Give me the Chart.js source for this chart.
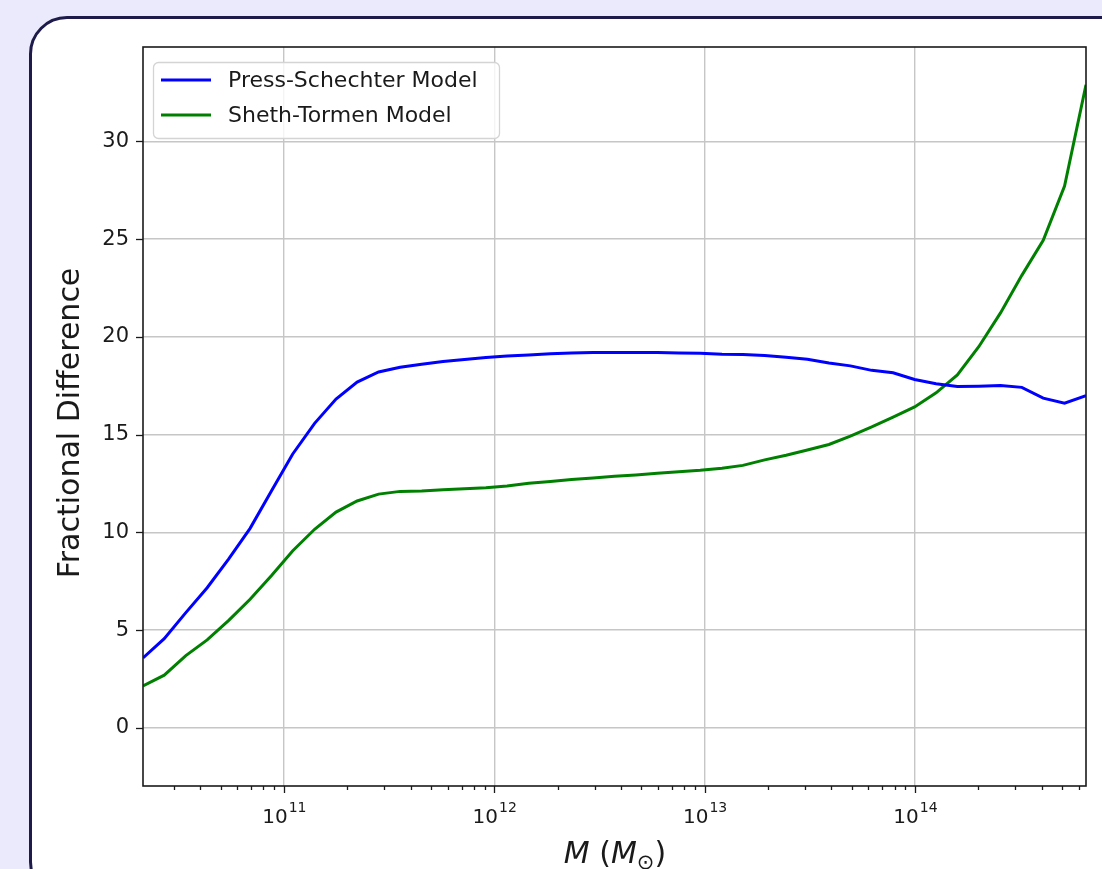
<!DOCTYPE html>
<html>
<head>
<meta charset="utf-8">
<script src="https://cdn.jsdelivr.net/npm/chart.js@4.4.1/dist/chart.umd.min.js"></script>
<style>
  html, body { margin: 0; padding: 0; width: 1102px; height: 869px; overflow: hidden; background: #eaeafc; }
  #card { position: absolute; left: 29px; top: 16px; width: 1200px; height: 884px; background: #fff;
          border: 3px solid #1e1b4b; border-radius: 38px; box-sizing: border-box; }
  #wrap { position: absolute; left: 0; top: 0; width: 1102px; height: 869px; }
</style>
</head>
<body>
<div id="card"></div>
<div id="wrap"><canvas id="chart" width="1102" height="869"></canvas></div>
<script>
// halo mass grid (M_sun)
const masses = [
  2.14e10, 2.70e10, 3.42e10, 4.32e10, 5.47e10, 6.91e10, 8.74e10, 1.10e11, 1.40e11, 1.77e11,
  2.23e11, 2.82e11, 3.57e11, 4.52e11, 5.71e11, 7.22e11, 9.13e11, 1.15e12, 1.46e12, 1.85e12,
  2.33e12, 2.95e12, 3.73e12, 4.71e12, 5.96e12, 7.54e12, 9.53e12, 1.21e13, 1.52e13, 1.93e13,
  2.44e13, 3.08e13, 3.90e13, 4.93e13, 6.23e13, 7.87e13, 9.96e13, 1.26e14, 1.59e14, 2.01e14,
  2.55e14, 3.22e14, 4.07e14, 5.14e14, 6.50e14
];

const pressSchechter = [
  3.58, 4.57, 5.90, 7.17, 8.65, 10.21, 12.13, 14.00, 15.58, 16.82,
  17.69, 18.21, 18.45, 18.60, 18.74, 18.85, 18.95, 19.03, 19.08, 19.14,
  19.18, 19.20, 19.21, 19.21, 19.20, 19.18, 19.17, 19.11, 19.10, 19.05,
  18.96, 18.86, 18.67, 18.52, 18.29, 18.17, 17.82, 17.61, 17.46, 17.48,
  17.51, 17.42, 16.87, 16.61, 17.00
];

const shethTormen = [
  2.15, 2.70, 3.70, 4.50, 5.50, 6.58, 7.80, 9.05, 10.16, 11.04,
  11.61, 11.96, 12.10, 12.12, 12.18, 12.23, 12.28, 12.38, 12.51, 12.61,
  12.71, 12.79, 12.87, 12.94, 13.03, 13.11, 13.18, 13.28, 13.43, 13.71,
  13.95, 14.22, 14.50, 14.93, 15.40, 15.90, 16.42, 17.14, 18.06, 19.50,
  21.23, 23.15, 24.94, 27.72, 32.90
];

const seriesLabels = ['Press-Schechter Model', 'Sheth-Tormen Model'];
const seriesColors = ['#0000ff', '#008000'];

const xMajorTicks = [1e11, 1e12, 1e13, 1e14];
const xTickExponents = ['11', '12', '13', '14'];   // labels read as 10^11 ... 10^14
const yTicks = [0, 5, 10, 15, 20, 25, 30];

const X_MIN = 2.14e10, X_MAX = 6.5e14;
const Y_MIN = -2.97, Y_MAX = 34.83;

// log minor ticks (2..9 x 10^n) inside the axis range
const xMinorTicks = [];
for (let e = 10; e <= 14; e++) {
  for (let m = 2; m <= 9; m++) {
    const v = m * Math.pow(10, e);
    if (v >= X_MIN && v <= X_MAX) xMinorTicks.push(v);
  }
}
const xAllTicks = xMajorTicks.concat(xMinorTicks).sort((a, b) => a - b);

const FONT = 'DejaVu Sans';
const INK = '#1a1a1a';

// frame, tick marks, tick labels with superscripts, legend and axis titles
const mplDecor = {
  id: 'mplDecor',
  afterDraw(chart) {
    const ctx = chart.ctx;
    const a = chart.chartArea;
    const xs = chart.scales.x, ys = chart.scales.y;

    ctx.save();
    ctx.strokeStyle = INK;
    ctx.lineWidth = 1.3;
    xAllTicks.forEach(v => {
      const px = Math.round(xs.getPixelForValue(v)) + 0.5;
      const len = xMajorTicks.includes(v) ? 7 : 4;
      ctx.beginPath();
      ctx.moveTo(px, a.bottom);
      ctx.lineTo(px, a.bottom + len);
      ctx.stroke();
    });
    yTicks.forEach(v => {
      const py = Math.round(ys.getPixelForValue(v)) + 0.5;
      ctx.beginPath();
      ctx.moveTo(a.left - 7, py);
      ctx.lineTo(a.left, py);
      ctx.stroke();
    });

    // x tick labels 10^n
    ctx.fillStyle = INK;
    ctx.textBaseline = 'alphabetic';
    ctx.textAlign = 'left';
    xMajorTicks.forEach((v, i) => {
      const px = xs.getPixelForValue(v);
      ctx.font = '20px "' + FONT + '"';
      const wb = ctx.measureText('10').width;
      ctx.font = '14px "' + FONT + '"';
      const we = ctx.measureText(xTickExponents[i]).width;
      const x0 = px - (wb + we) / 2;
      ctx.font = '20px "' + FONT + '"';
      ctx.fillText('10', x0, 823);
      ctx.font = '14px "' + FONT + '"';
      ctx.fillText(xTickExponents[i], x0 + wb + 1, 812);
    });

    // legend box
    ctx.fillStyle = 'rgba(255,255,255,0.8)';
    ctx.strokeStyle = '#d4d4d4';
    ctx.lineWidth = 1.3;
    ctx.beginPath();
    ctx.roundRect(153.5, 62.5, 346, 76, 5);
    ctx.fill();
    ctx.stroke();
    chart.data.datasets.forEach((ds, i) => {
      const y = 80 + i * 35;
      ctx.strokeStyle = ds.borderColor;
      ctx.lineWidth = 3;
      ctx.beginPath();
      ctx.moveTo(161, y);
      ctx.lineTo(211, y);
      ctx.stroke();
      ctx.fillStyle = INK;
      ctx.font = '22px "' + FONT + '"';
      ctx.textAlign = 'left';
      ctx.textBaseline = 'middle';
      ctx.fillText(ds.label, 228, y + 1);
    });

    // axes frame
    ctx.strokeStyle = INK;
    ctx.lineWidth = 1.6;
    ctx.strokeRect(a.left, a.top, a.right - a.left, a.bottom - a.top);

    // y title
    ctx.fillStyle = INK;
    ctx.save();
    ctx.translate(71, 423);
    ctx.rotate(-Math.PI / 2);
    ctx.font = '30px "' + FONT + '"';
    ctx.textAlign = 'center';
    ctx.textBaseline = 'middle';
    ctx.fillText('Fractional Difference', 0, 0);
    ctx.restore();

    // x title: M (M_sun)
    const parts = [
      { t: 'M', f: 'italic 30px "' + FONT + '"', dy: 0 },
      { t: ' (', f: '30px "' + FONT + '"', dy: 0 },
      { t: 'M', f: 'italic 30px "' + FONT + '"', dy: 0 },
      { t: '\u2299', f: '21px "' + FONT + '"', dy: 6 },
      { t: ')', f: '30px "' + FONT + '"', dy: 0 }
    ];
    let total = 0;
    parts.forEach(p => { ctx.font = p.f; p.w = ctx.measureText(p.t).width; total += p.w; });
    let cx = 615 - total / 2;
    ctx.textAlign = 'left';
    ctx.textBaseline = 'alphabetic';
    parts.forEach(p => {
      ctx.font = p.f;
      ctx.fillText(p.t, cx, 863 + p.dy);
      cx += p.w;
    });
    ctx.restore();
  }
};

new Chart(document.getElementById('chart'), {
  type: 'line',
  data: {
    labels: masses,
    datasets: [
      { label: seriesLabels[0], data: pressSchechter, borderColor: seriesColors[0] },
      { label: seriesLabels[1], data: shethTormen, borderColor: seriesColors[1] }
    ].map(d => Object.assign(d, {
      data: d.data.map((v, i) => ({ x: masses[i], y: v })),
      borderWidth: 3, pointRadius: 0, tension: 0, fill: false
    }))
  },
  options: {
    responsive: false,
    animation: false,
    devicePixelRatio: 1,
    layout: { padding: { left: 0, right: 16, top: 47, bottom: 0 } },
    plugins: { legend: { display: false }, tooltip: { enabled: false } },
    scales: {
      x: {
        type: 'logarithmic',
        min: X_MIN, max: X_MAX,
        afterFit: s => { s.height = 83; },
        afterBuildTicks: s => { s.ticks = xAllTicks.map(v => ({ value: v })); },
        ticks: { autoSkip: false, maxRotation: 0, minRotation: 0, callback: () => '' },
        grid: {
          drawTicks: false, lineWidth: 1.4,
          color: c => (c.tick && xMajorTicks.includes(c.tick.value)) ? '#c6c6c6' : 'rgba(0,0,0,0)'
        },
        border: { display: false }
      },
      y: {
        type: 'linear',
        min: Y_MIN, max: Y_MAX,
        afterFit: s => { s.width = 143; },
        afterBuildTicks: s => { s.ticks = yTicks.map(v => ({ value: v })); },
        ticks: { padding: 14, color: INK, font: { family: FONT, size: 21 } },
        grid: { drawTicks: false, lineWidth: 1.4, color: '#c6c6c6' },
        border: { display: false }
      }
    }
  },
  plugins: [mplDecor]
});
</script>
</body>
</html>
